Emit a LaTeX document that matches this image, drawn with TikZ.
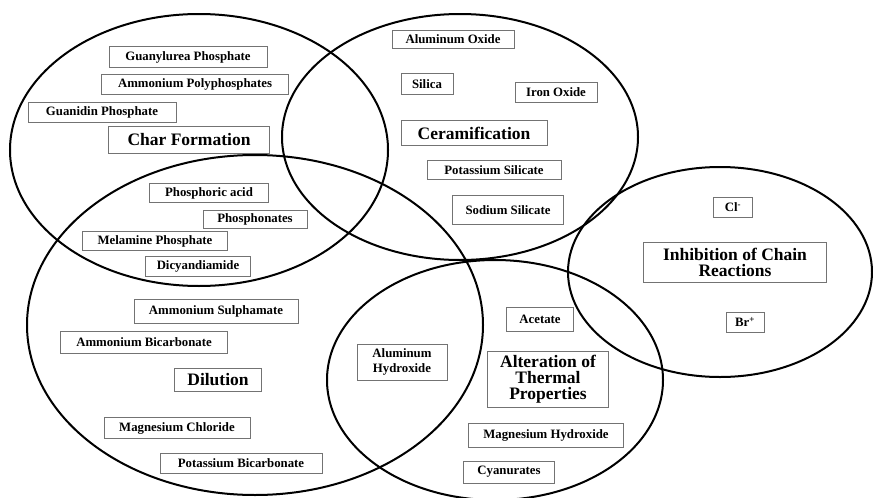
\documentclass[tikz,border=0pt]{standalone}
\usepackage{fontspec}
\setmainfont{Liberation Serif}
\tikzset{
  item/.style={draw=black!55, line width=0.7pt, inner sep=1pt, align=center,
    font=\fontsize{12.8}{14.5}\selectfont\bfseries},
  title/.style={item, font=\fontsize{17.5}{16}\selectfont\bfseries},
  group/.style={line width=2pt},
  sz/.style 2 args={minimum width=#1pt, minimum height=#2pt}
}
\begin{document}
\begin{tikzpicture}[x=1pt,y=-1pt]
\useasboundingbox (0,0) rectangle (873,498);
% the five groups
\draw[group] (199,150) ellipse [x radius=189, y radius=136];
\draw[group] (460,137) ellipse [x radius=178, y radius=123];
\draw[group] (255,325) ellipse [x radius=228, y radius=170];
\draw[group] (495,380) ellipse [x radius=168, y radius=120];
\draw[group] (720,272) ellipse [x radius=152, y radius=105];
% char formation
\node[item,sz={158}{21}] (guanylurea) at (188,57) {Guanylurea Phosphate};
\node[item,sz={187}{20}] (ammpoly) at (195,84) {Ammonium Polyphosphates};
\node[item,sz={148}{20}] (guanidin) at (102,112) {Guanidin Phosphate};
\node[title,sz={161}{27}] (char) at (189,140) {Char Formation};
\node[item,sz={119}{19}] (phosacid) at (209,193) {Phosphoric acid};
\node[item,sz={104}{18}] (phosphon) at (255,219) {Phosphonates};
\node[item,sz={145}{19}] (melamine) at (155,241) {Melamine Phosphate};
\node[item,sz={105}{20}] (dicyan) at (198,266) {Dicyandiamide};
% dilution
\node[item,sz={164}{24}] (ammsulph) at (216,311) {Ammonium Sulphamate};
\node[item,sz={167}{22}] (ammbicarb) at (144,342) {Ammonium Bicarbonate};
\node[title,sz={87}{23}] (dilution) at (218,380) {Dilution};
\node[item,sz={146}{21}] (mgchlor) at (177,428) {Magnesium Chloride};
\node[item,sz={162}{20}] (kbicarb) at (241,463) {Potassium Bicarbonate};
\node[item,sz={90}{36}] (alhydrox) at (402,362) {Aluminum\\Hydroxide};
% ceramification
\node[item,sz={122}{18}] (aloxide) at (453,39) {Aluminum Oxide};
\node[item,sz={52}{21}] (silica) at (427,84) {Silica};
\node[item,sz={82}{20}] (ironox) at (556,92) {Iron Oxide};
\node[title,sz={146}{25}] (ceram) at (474,133) {Ceramification};
\node[item,sz={134}{19}] (ksilic) at (494,170) {Potassium Silicate};
\node[item,sz={111}{29}] (nasilic) at (508,210) {Sodium Silicate};
% thermal properties
\node[item,sz={67}{24}] (acetate) at (540,319) {Acetate};
\node[title,sz={121}{56}] (alteration) at (548,379) {Alteration of\\Thermal\\Properties};
\node[item,sz={155}{24}] (mghydrox) at (546,435) {Magnesium Hydroxide};
\node[item,sz={91}{22}] (cyanur) at (509,472) {Cyanurates};
% chain reactions
\node[item,sz={39}{20}] (chlor) at (733,207) {Cl\textsuperscript{-}};
\node[title,sz={183}{40}] (inhib) at (735,262) {Inhibition of Chain\\Reactions};
\node[item,sz={38}{20}] (brom) at (745,322) {Br\textsuperscript{+}};
\end{tikzpicture}
\end{document}
